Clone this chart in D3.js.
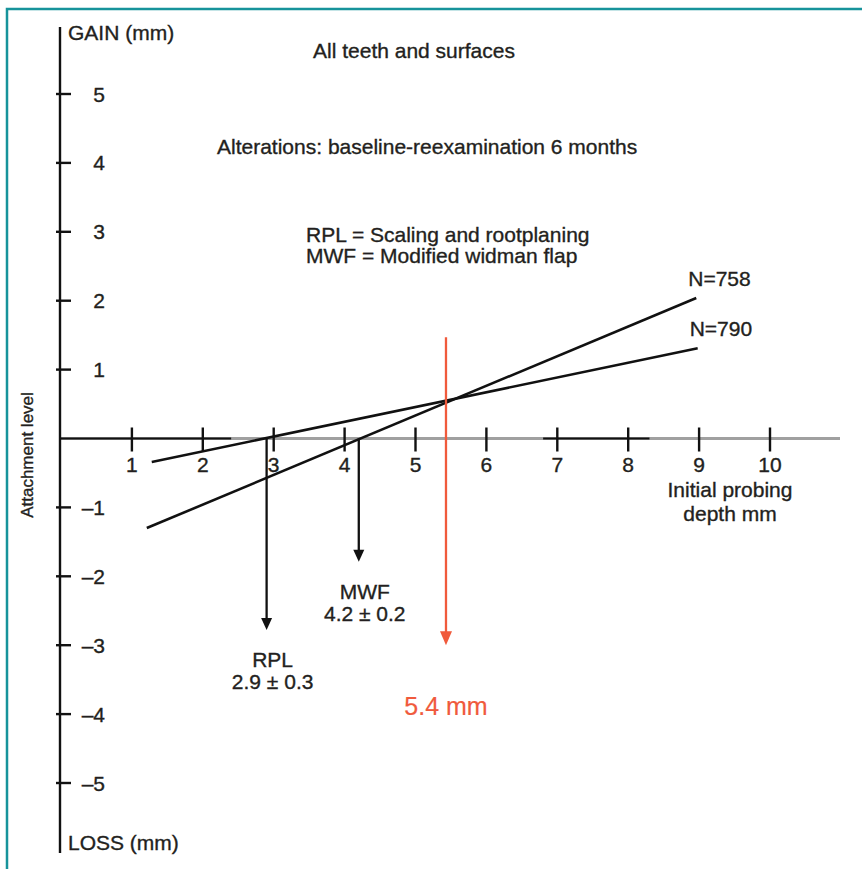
<!DOCTYPE html>
<html lang="en">
<head>
    <meta charset="UTF-8">
    <title>Attachment level</title>
    <script src="https://cdn.jsdelivr.net/npm/d3@7"></script>
    <style>
        body { margin: 0; background: #fff; }
        text { font-family: "Liberation Sans", Arial, sans-serif; fill: #231f20; stroke: #231f20; stroke-width: 0.35px; }
    </style>
</head>
<body>
<script>
    // data
    const xTicks = [1, 2, 3, 4, 5, 6, 7, 8, 9, 10];
    const yTicks = [5, 4, 3, 2, 1, -1, -2, -3, -4, -5];
    const lineNames = ['N=758', 'N=790'];
    const lineStart = [[1.21, -1.30], [1.28, -0.34]];
    const lineEnd = [[8.96, 2.04], [8.98, 1.31]];
    const arrowNames = ['RPL', 'MWF'];
    const arrowX = [2.9, 4.2];
    const arrowTip = [-2.78, -1.79];
    const arrowValues = ['2.9 \u00b1 0.3', '4.2 \u00b1 0.2'];
    const criticalX = 5.43;
    const criticalRange = [1.47, -3.0];
    const criticalLabel = '5.4 mm';

    const W = 862, H = 869;
    const red = '#f05a3c';
    const fs = '21px';

    let svg = d3.select('body').append('svg')
        .attr('width', W)
        .attr('height', H);

    let x = d3.scaleLinear().domain([0, 10]).range([61, 770]);
    let y = d3.scaleLinear().domain([-5, 5]).range([783, 94]);

    // frame
    svg.append('path')
        .attr('d', `M7,${H} V9 H${W}`)
        .style('fill', 'none')
        .style('stroke', '#17939b')
        .style('stroke-width', 2.5);

    // x axis: grey baseline with darker pieces, as printed
    svg.append('line')
        .attr('x1', x(0)).attr('x2', 840)
        .attr('y1', y(0)).attr('y2', y(0))
        .style('stroke', '#a0a0a0').style('stroke-width', 3);
    [[0, 2.4], [6.8, 8.3]].forEach(seg => {
        svg.append('line')
            .attr('x1', x(seg[0])).attr('x2', x(seg[1]))
            .attr('y1', y(0)).attr('y2', y(0))
            .style('stroke', '#111').style('stroke-width', 2);
    });

    let xg = svg.append('g');
    xTicks.forEach(t => {
        xg.append('line')
            .attr('x1', x(t)).attr('x2', x(t))
            .attr('y1', y(0) - 11).attr('y2', y(0) + 13)
            .style('stroke', '#111').style('stroke-width', 2.4);
        xg.append('text')
            .attr('x', x(t)).attr('y', 472)
            .attr('text-anchor', 'middle')
            .style('font-size', fs)
            .text(t);
    });

    // y axis
    svg.append('line')
        .attr('x1', 60).attr('x2', 60)
        .attr('y1', 27).attr('y2', 853)
        .style('stroke', '#111').style('stroke-width', 2.4);

    let yg = svg.append('g');
    yTicks.forEach(t => {
        yg.append('line')
            .attr('x1', 56).attr('x2', 71)
            .attr('y1', y(t)).attr('y2', y(t))
            .style('stroke', '#111').style('stroke-width', 2.4);
        yg.append('text')
            .attr('x', 105).attr('y', y(t))
            .attr('dy', '0.36em')
            .attr('text-anchor', 'end')
            .style('font-size', fs)
            .text(t < 0 ? '\u2013' + Math.abs(t) : t);
    });

    svg.append('text').attr('x', 68).attr('y', 40).style('font-size', fs).text('GAIN (mm)');
    svg.append('text').attr('x', 68).attr('y', 850).style('font-size', fs).text('LOSS (mm)');
    svg.append('text')
        .attr('transform', 'translate(33,455) rotate(-90)')
        .attr('text-anchor', 'middle')
        .style('font-size', '17px')
        .text('Attachment level');

    // regression lines
    lineNames.forEach((name, i) => {
        svg.append('line')
            .attr('x1', x(lineStart[i][0])).attr('y1', y(lineStart[i][1]))
            .attr('x2', x(lineEnd[i][0])).attr('y2', y(lineEnd[i][1]))
            .style('stroke', '#111').style('stroke-width', 2.6);
        svg.append('text')
            .attr('x', x(lineEnd[i][0]) - 8)
            .attr('y', y(lineEnd[i][1]) - 12)
            .style('font-size', fs)
            .text(name);
    });

    function arrow(xv, y0, y1, color, w, h) {
        let px = x(xv), tip = y(y1);
        svg.append('line')
            .attr('x1', px).attr('x2', px)
            .attr('y1', y(y0)).attr('y2', tip - h + 2)
            .style('stroke', color).style('stroke-width', 2.3);
        svg.append('path')
            .attr('d', `M${px - w / 2},${tip - h} L${px + w / 2},${tip - h} L${px},${tip} Z`)
            .style('fill', color);
    }

    arrowNames.forEach((name, i) => {
        arrow(arrowX[i], 0, arrowTip[i], '#111', 11, 12);
        let cx = x(arrowX[i]) + 6;
        svg.append('text')
            .attr('x', cx).attr('y', y(arrowTip[i]) + 37)
            .attr('text-anchor', 'middle')
            .style('font-size', fs)
            .text(name);
        svg.append('text')
            .attr('x', cx).attr('y', y(arrowTip[i]) + 59)
            .attr('text-anchor', 'middle')
            .style('font-size', fs)
            .text(arrowValues[i]);
    });

    arrow(criticalX, criticalRange[0], criticalRange[1], red, 12, 14);
    svg.append('text')
        .attr('x', x(criticalX)).attr('y', 715)
        .attr('text-anchor', 'middle')
        .style('font-size', '25px')
        .style('fill', red).style('stroke', red).style('stroke-width', 0.2)
        .text(criticalLabel);

    // captions
    svg.append('text').attr('x', 414).attr('y', 58).attr('text-anchor', 'middle')
        .style('font-size', fs).text('All teeth and surfaces');
    svg.append('text').attr('x', 217).attr('y', 154)
        .style('font-size', fs).text('Alterations: baseline-reexamination 6 months');
    svg.append('text').attr('x', 306).attr('y', 242)
        .style('font-size', fs).text('RPL = Scaling and rootplaning');
    svg.append('text').attr('x', 306).attr('y', 263)
        .style('font-size', fs).text('MWF = Modified widman flap');
    svg.append('text').attr('x', 730).attr('y', 497).attr('text-anchor', 'middle')
        .style('font-size', fs).text('Initial probing');
    svg.append('text').attr('x', 730).attr('y', 521).attr('text-anchor', 'middle')
        .style('font-size', fs).text('depth mm');
</script>
</body>
</html>
